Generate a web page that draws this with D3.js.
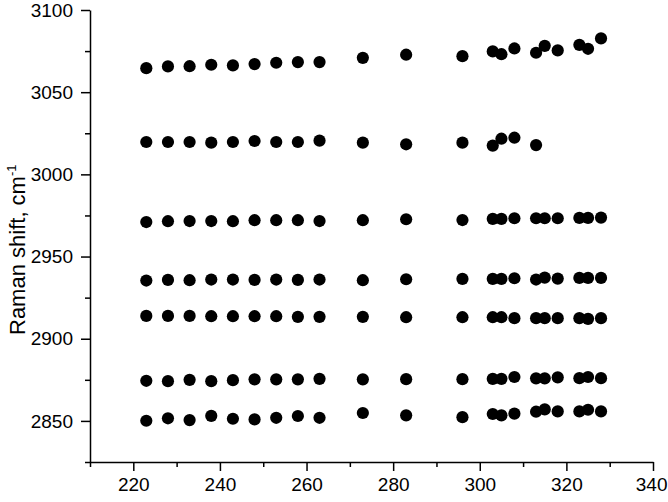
<!DOCTYPE html>
<html>
<head>
<meta charset="utf-8">
<script src="https://cdn.jsdelivr.net/npm/d3@7"></script>
<style>
  body { margin: 0; background: #fff; }
  svg { display: block; font-family: "Liberation Sans", Arial, sans-serif; }
</style>
</head>
<body>
<div id="chart"></div>
<script>
// temperatures (x) and the seven Raman bands (y)
const temps = [223, 228, 233, 238, 243, 248, 253, 258, 263, 273, 283, 296, 303, 305, 308, 313, 315, 318, 323, 325, 328]

const band3065 = [3064.6, 3065.7, 3065.8, 3066.7, 3066.3, 3067.1, 3067.9, 3068.3, 3068.3, 3070.9, 3072.8, 3071.9, 3074.8, 3073.1, 3076.6, 3074.0, 3078.2, 3075.4, 3078.8, 3076.4, 3082.7]
// this band stops at 313
const band3020 = [3019.7, 3019.7, 3019.7, 3019.3, 3019.7, 3020.3, 3019.7, 3019.7, 3020.5, 3019.3, 3018.3, 3019.3, 3017.5, 3021.7, 3022.3, 3017.8]
const band2972 = [2971.0, 2971.5, 2971.6, 2971.6, 2971.5, 2972.1, 2972.1, 2972.1, 2971.6, 2972.1, 2972.7, 2972.2, 2972.9, 2972.9, 2973.3, 2973.3, 2973.3, 2973.3, 2973.5, 2973.5, 2973.7]
const band2936 = [2935.4, 2935.8, 2935.6, 2936.0, 2936.0, 2935.8, 2936.0, 2935.8, 2936.0, 2935.6, 2936.2, 2936.4, 2936.4, 2936.4, 2936.8, 2936.0, 2937.2, 2936.6, 2937.0, 2937.0, 2937.0]
const band2913 = [2913.9, 2913.9, 2913.9, 2913.7, 2913.7, 2913.7, 2913.7, 2913.3, 2913.3, 2913.3, 2913.1, 2913.1, 2913.1, 2913.1, 2912.5, 2912.5, 2912.5, 2912.5, 2912.5, 2912.1, 2912.5]
const band2875 = [2874.4, 2874.2, 2875.0, 2874.2, 2874.8, 2875.3, 2875.3, 2875.3, 2875.6, 2875.3, 2875.4, 2875.4, 2875.6, 2875.6, 2876.7, 2875.9, 2875.9, 2876.5, 2876.0, 2876.7, 2876.0]
const band2852 = [2850.1, 2851.6, 2850.5, 2853.1, 2851.3, 2850.9, 2851.9, 2853.0, 2851.9, 2854.8, 2853.4, 2852.3, 2854.2, 2853.4, 2854.4, 2855.6, 2857.0, 2855.8, 2855.8, 2856.8, 2855.8]

const bands = [band3065, band3020, band2972, band2936, band2913, band2875, band2852]

const xMajor = [220, 240, 260, 280, 300, 320, 340]
const xMinor = [210, 230, 250, 270, 290, 310, 330]
const yMajor = [2850, 2900, 2950, 3000, 3050, 3100]
const yMinor = [2825, 2875, 2925, 2975, 3025, 3075]

const width = 668
const height = 502
const margin = {left: 90, right: 15, top: 10, bottom: 40}

const x = d3.scaleLinear().domain([210, 340]).range([margin.left, width - margin.right])
const y = d3.scaleLinear().domain([2825, 3100]).range([height - margin.bottom, margin.top])

const svg = d3.select("#chart").append("svg")
  .attr("width", width)
  .attr("height", height)

// points
const points = bands.flatMap(b => b.map((v, i) => ({t: temps[i], v})))
svg.append("g")
  .attr("fill", "#000")
  .selectAll("circle")
  .data(points)
  .join("circle")
  .attr("cx", d => x(d.t))
  .attr("cy", d => y(d.v))
  .attr("r", 6.1)

// axes
const styleAxis = g => {
  g.selectAll("path, line").attr("stroke", "#000").attr("stroke-width", 1.5)
  g.selectAll("text").attr("fill", "#000").attr("font-size", 19)
}

const x0 = height - margin.bottom
svg.append("g")
  .attr("transform", `translate(0,${x0})`)
  .call(d3.axisBottom(x).tickValues(xMinor).tickSize(5).tickFormat(""))
  .call(g => g.select(".domain").remove())
  .call(styleAxis)

svg.append("g")
  .attr("transform", `translate(0,${x0})`)
  .call(d3.axisBottom(x).tickValues(xMajor).tickSize(9).tickSizeOuter(0).tickPadding(7).tickFormat(d3.format("d")))
  .call(styleAxis)
  // keep the last label inside the page
  .call(g => g.selectAll(".tick:last-of-type text").attr("text-anchor", "end").attr("x", 14))

svg.append("g")
  .attr("transform", `translate(${margin.left},0)`)
  .call(d3.axisLeft(y).tickValues(yMinor).tickSize(5).tickFormat(""))
  .call(g => g.select(".domain").remove())
  .call(styleAxis)

svg.append("g")
  .attr("transform", `translate(${margin.left},0)`)
  .call(d3.axisLeft(y).tickValues(yMajor).tickSize(9).tickSizeOuter(0).tickPadding(8).tickFormat(d3.format("d")))
  .call(styleAxis)

// y title
const title = svg.append("text")
  .attr("transform", `translate(25,335) rotate(-90)`)
  .attr("font-size", 22)
  .attr("fill", "#000")
title.append("tspan").text("Raman shift, cm")
title.append("tspan")
  .attr("font-size", 13)
  .attr("dy", -9)
  .text("-1")
</script>
</body>
</html>
